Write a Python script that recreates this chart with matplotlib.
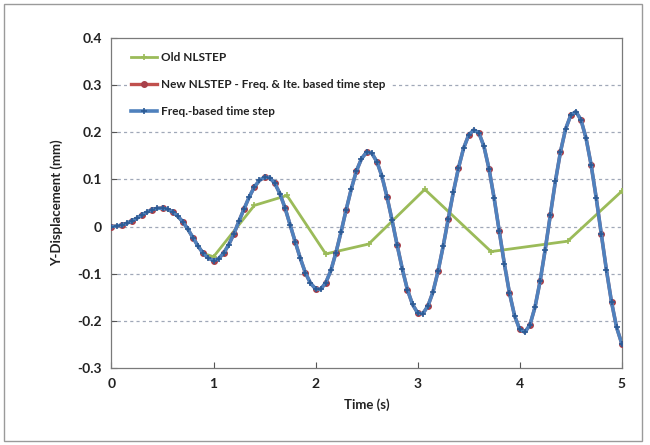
import matplotlib
matplotlib.use("Agg")
import matplotlib.pyplot as plt
from matplotlib.patches import Rectangle
from matplotlib.ticker import FuncFormatter

plt.rcParams['font.family'] = ['Lato', 'DejaVu Sans']

# Old NLSTEP (fine steps early, then coarse steps)
old_t = [0.0, 0.1, 0.2, 0.3, 0.4, 0.5, 0.6, 0.7, 0.8, 0.9,
         1.0, 1.40, 1.72, 2.10, 2.52, 3.07, 3.72, 4.47, 5.0]
old_y = [0.000, 0.003, 0.012, 0.025, 0.036, 0.039, 0.031, 0.010, -0.024, -0.057,
         -0.064, 0.045, 0.066, -0.058, -0.037, 0.079, -0.053, -0.031, 0.075]

# Freq.-based time step (blue)
freq_t = [round(0.05 * i, 2) for i in range(101)]
freq_y = [0.000, 0.001, 0.003, 0.007, 0.012, 0.018, 0.025, 0.031, 0.036, 0.039,
          0.039, 0.037, 0.031, 0.022, 0.010, -0.006, -0.024, -0.042, -0.057, -0.067,
          -0.072, -0.068, -0.056, -0.038, -0.015, 0.012, 0.038, 0.063, 0.084, 0.098,
          0.105, 0.104, 0.092, 0.070, 0.040, 0.004, -0.032, -0.067, -0.098, -0.120,
          -0.132, -0.133, -0.119, -0.093, -0.055, -0.011, 0.036, 0.080, 0.118, 0.144,
          0.158, 0.156, 0.138, 0.107, 0.063, 0.013, -0.040, -0.090, -0.134, -0.165,
          -0.183, -0.185, -0.169, -0.139, -0.095, -0.042, 0.016, 0.073, 0.124, 0.166,
          0.194, 0.205, 0.199, 0.170, 0.122, 0.060, -0.010, -0.079, -0.141, -0.189,
          -0.218, -0.224, -0.209, -0.171, -0.116, -0.049, 0.024, 0.096, 0.159, 0.207,
          0.236, 0.244, 0.227, 0.188, 0.131, 0.061, -0.016, -0.092, -0.160, -0.214,
          -0.248]

# New NLSTEP - Freq. & Ite. based time step (red) - nearly identical to blue
new_t = [round(0.05 * i, 2) for i in range(101)]
new_y = [0.000, 0.001, 0.003, 0.007, 0.012, 0.018, 0.025, 0.031, 0.036, 0.039,
         0.039, 0.037, 0.031, 0.022, 0.010, -0.006, -0.024, -0.042, -0.057, -0.067,
         -0.072, -0.068, -0.056, -0.038, -0.015, 0.012, 0.038, 0.063, 0.084, 0.098,
         0.105, 0.104, 0.092, 0.070, 0.040, 0.004, -0.032, -0.067, -0.098, -0.120,
         -0.132, -0.133, -0.119, -0.093, -0.055, -0.011, 0.036, 0.080, 0.118, 0.144,
         0.158, 0.156, 0.138, 0.107, 0.063, 0.013, -0.040, -0.090, -0.134, -0.165,
         -0.183, -0.185, -0.169, -0.139, -0.095, -0.042, 0.016, 0.073, 0.124, 0.166,
         0.194, 0.205, 0.199, 0.170, 0.122, 0.060, -0.010, -0.079, -0.141, -0.189,
         -0.218, -0.224, -0.209, -0.171, -0.116, -0.049, 0.024, 0.096, 0.159, 0.207,
         0.236, 0.244, 0.227, 0.188, 0.131, 0.061, -0.016, -0.092, -0.160, -0.214,
         -0.248]

y_ticks = [-0.3, -0.2, -0.1, 0, 0.1, 0.2, 0.3, 0.4]
x_ticks = [0, 1, 2, 3, 4, 5]

fig = plt.figure(figsize=(6.5, 4.45), dpi=100)
fig.patches.append(Rectangle((0.006, 0.008), 0.982, 0.984, transform=fig.transFigure,
                             fill=False, edgecolor='#9a9a9a', linewidth=1.0))
ax = fig.add_axes([0.1715, 0.173, 0.785, 0.7415])

ax.plot(old_t, old_y, color='#9bbb59', lw=2.0, marker='+', ms=5, mew=1.2,
        markevery=list(range(10, len(old_t))),
        label='Old NLSTEP', zorder=3)
ax.plot(new_t, new_y, color='#c0504d', lw=2.4, marker='o', ms=4,
        markerfacecolor='#a8404a', markeredgecolor='#a8404a', markevery=2,
        label='New NLSTEP - Freq. & Ite. based time step', zorder=4)
ax.plot(freq_t, freq_y, color='#4f81bd', lw=2.6, marker='+', ms=4.5, mew=1.2,
        markeredgecolor='#2c5a94', label='Freq.-based time step', zorder=5)

ax.set_xlim(0, 5)
ax.set_ylim(-0.3, 0.4)
ax.set_xticks(x_ticks)
ax.set_yticks(y_ticks)

def fmt(v, pos):
    if abs(v) < 1e-9:
        return '0'
    return ('%.1f' % v)
ax.yaxis.set_major_formatter(FuncFormatter(fmt))
ax.xaxis.set_major_formatter(FuncFormatter(lambda v, p: '%d' % v))

for yv in y_ticks[1:-1]:
    ax.axhline(yv, color='#a0a8b8', lw=0.9, ls=(0, (2.5, 2.5)), zorder=1)

ax.tick_params(direction='in', length=4, width=0.8, colors='#555555',
               labelcolor='#222222', labelsize=10, pad=7)
for lbl in ax.get_xticklabels() + ax.get_yticklabels():
    lbl.set_fontweight('bold')
for s in ax.spines.values():
    s.set_color('#7a7a7a')
    s.set_linewidth(0.9)

ax.set_xlabel('Time (s)', fontsize=9.5, fontweight='bold', labelpad=6, color='#222222')
ax.set_ylabel('Y-Displacement (mm)', fontsize=9.5, fontweight='bold', labelpad=10, color='#222222')

leg = ax.legend(loc='upper left', bbox_to_anchor=(0.018, 0.99), frameon=True,
                fontsize=8.5, handlelength=2.2, handletextpad=0.3,
                labelspacing=1.35, borderaxespad=0.5)
leg.get_frame().set_edgecolor('none')
leg.get_frame().set_facecolor('white')
leg.get_frame().set_alpha(1.0)
for t in leg.get_texts():
    t.set_fontweight('bold')
    t.set_color('#222222')

fig.savefig('out.png', dpi=100)
